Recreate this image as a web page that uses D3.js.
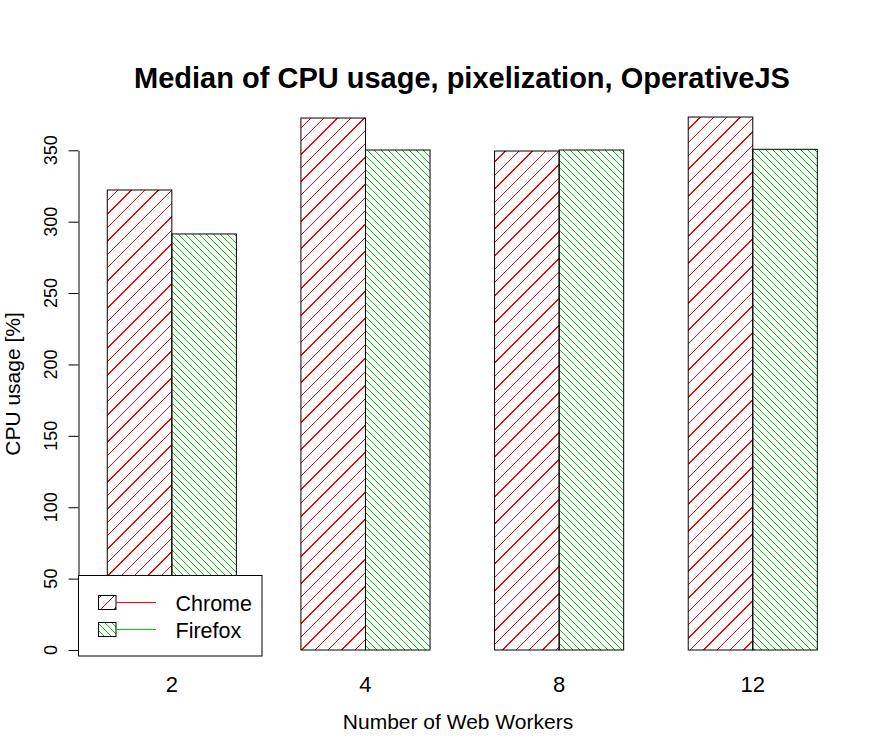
<!DOCTYPE html>
<html>
<head>
<meta charset="utf-8">
<script src="https://cdn.jsdelivr.net/npm/d3@7"></script>
<style>
  html, body { margin: 0; padding: 0; background: #fff; }
  svg { display: block; font-family: "Liberation Sans", Arial, sans-serif; }
</style>
</head>
<body>
<svg id="chart" width="886" height="754"></svg>
<script>
// ---- data ----
const workers = ["2", "4", "8", "12"];
const seriesNames = ["Chrome", "Firefox"];
const chromeValues = [322.2, 372.6, 349.5, 373.3];
const firefoxValues = [291.4, 350.2, 350.2, 350.7];
const yTicks = [0, 50, 100, 150, 200, 250, 300, 350];
const titleText = "Median of CPU usage, pixelization, OperativeJS";
const xLabel = "Number of Web Workers";
const yLabel = "CPU usage [%]";

// ---- styles ----
const colors = { Chrome: "#ff0000", Firefox: "#00cd00" };
const hatch = { Chrome: { dir: 1, step: 13.4 }, Firefox: { dir: -1, step: 7 } };

const svg = d3.select("#chart");
const W = 886, H = 754;
svg.append("rect").attr("width", W).attr("height", H).attr("fill", "#fff");

const x = d3.scaleBand().domain(workers).range([75, 849.6]).paddingInner(1/3).paddingOuter(1/6);
const xs = d3.scaleBand().domain(seriesNames).range([0, x.bandwidth()]);
const y = d3.scaleLinear().domain([0, 350]).range([650, 150.3]);

const rows = workers.map((w, i) => ({ w, Chrome: chromeValues[i], Firefox: firefoxValues[i] }));

const defs = svg.append("defs");
let clipId = 0;

// draw hatch lines inside a rectangle
function hatchRect(g, x0, y0, x1, y1, s) {
  const id = "clip" + (clipId++);
  defs.append("clipPath").attr("id", id)
    .append("rect").attr("x", x0).attr("y", y0).attr("width", x1 - x0).attr("height", y1 - y0);
  const hg = g.append("g").attr("clip-path", `url(#${id})`);
  const h = hatch[s];
  const lines = [];
  if (h.dir === 1) {
    const cMin = Math.floor((x0 + y0) / h.step) * h.step;
    for (let c = cMin; c <= x1 + y1 + h.step; c += h.step) {
      lines.push([c - y1, y1, c - y0, y0]);
    }
  } else {
    const cMin = Math.floor((y0 - x1) / h.step) * h.step;
    for (let c = cMin; c <= y1 - x0 + h.step; c += h.step) {
      lines.push([y0 - c, y0, y1 - c, y1]);
    }
  }
  hg.selectAll("line").data(lines).enter().append("line")
    .attr("x1", d => d[0]).attr("y1", d => d[1]).attr("x2", d => d[2]).attr("y2", d => d[3])
    .attr("stroke", colors[s]).attr("stroke-width", 1).attr("shape-rendering", "crispEdges");
}

// ---- bars ----
const barsG = svg.append("g");
rows.forEach(r => {
  seriesNames.forEach(s => {
    const bx0 = x(r.w) + xs(s), bx1 = bx0 + xs.bandwidth();
    hatchRect(barsG, bx0, y(r[s]), bx1, y(0), s);
  });
});
rows.forEach(r => {
  seriesNames.forEach(s => {
    barsG.append("rect")
      .attr("x", x(r.w) + xs(s)).attr("y", y(r[s]))
      .attr("width", xs.bandwidth()).attr("height", y(0) - y(r[s]))
      .attr("fill", "none").attr("stroke", "#000").attr("stroke-width", 1);
  });
});

// ---- y axis ----
const yAxis = d3.axisLeft(y).tickValues(yTicks).tickSize(10).tickSizeOuter(0).tickFormat("");
const yg = svg.append("g").attr("transform", "translate(78.5,0)").call(yAxis);
yg.select(".domain").attr("stroke", "#000").attr("stroke-width", 1);
yg.selectAll(".tick line").attr("stroke", "#000");
yg.selectAll(".tick text").remove();
svg.append("g").selectAll("text").data(yTicks).enter().append("text")
  .attr("transform", d => `translate(57,${y(d)}) rotate(-90)`)
  .attr("text-anchor", "middle")
  .attr("font-size", 18).attr("fill", "#000")
  .text(d => d);

// ---- x labels ----
const xAxis = d3.axisBottom(x).tickSize(0);
const xg = svg.append("g").attr("transform", "translate(0,650)").call(xAxis);
xg.select(".domain").remove();
xg.selectAll(".tick text").attr("font-size", 22).attr("fill", "#000")
  .attr("y", 42).attr("dy", 0)
  .attr("font-family", "Liberation Sans, Arial, sans-serif");

// ---- titles ----
svg.append("text").attr("x", 462).attr("y", 88).attr("text-anchor", "middle")
  .attr("font-size", 29).attr("font-weight", "bold").text(titleText);
svg.append("text").attr("x", 458).attr("y", 729).attr("text-anchor", "middle")
  .attr("font-size", 21).text(xLabel);
svg.append("text").attr("transform", "translate(19.5,384) rotate(-90)").attr("text-anchor", "middle")
  .attr("font-size", 21).text(yLabel);

// ---- legend ----
const lg = svg.append("g");
lg.append("rect").attr("x", 78.5).attr("y", 575.5).attr("width", 183.5).attr("height", 80.5)
  .attr("fill", "#fff").attr("stroke", "#000").attr("stroke-width", 1);
seriesNames.forEach((s, i) => {
  const cy = 602.5 + i * 27;
  hatchRect(lg, 98.5, cy - 7, 116, cy + 7, s);
  lg.append("rect").attr("x", 98.5).attr("y", cy - 7).attr("width", 17.5).attr("height", 14)
    .attr("fill", "none").attr("stroke", "#000");
  lg.append("line").attr("x1", 116).attr("x2", 156).attr("y1", cy).attr("y2", cy)
    .attr("stroke", colors[s]).attr("stroke-width", 1);
  lg.append("text").attr("x", 175.5).attr("y", cy + 8).attr("font-size", 21.5).text(s);
});
</script>
</body>
</html>
